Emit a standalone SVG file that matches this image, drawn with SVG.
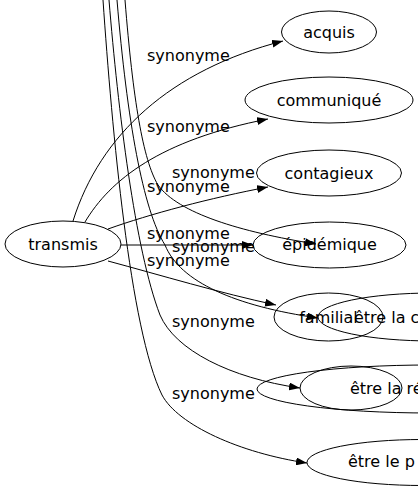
<svg xmlns="http://www.w3.org/2000/svg" width="418" height="491" viewBox="0 0 418 491">
<style>
.n ellipse{fill:none;stroke:#000;stroke-width:1}
.n text{font-family:"DejaVu Sans",sans-serif;font-size:16px;fill:#000}
.e path{fill:none;stroke:#000;stroke-width:1;marker-end:url(#ah)}
.e text{font-family:"DejaVu Sans",sans-serif;font-size:16px;fill:#000}
</style>
<defs>
<marker id="ah" markerUnits="userSpaceOnUse" markerWidth="11" markerHeight="8" viewBox="0 0 11 8" refX="11" refY="4" orient="auto">
<path d="M0,0 L11,4 L0,8 z" fill="#000"/>
</marker>
</defs>
<rect width="418" height="491" fill="#fff"/>
<g id="edges" class="e">
<path d="M73,221 C100,135 170,70 283,41"/>
<path d="M85,222 C110,180 160,140 268,119"/>
<path d="M108,229 C150,214 210,198 268,187"/>
<path d="M121,245 L253,245"/>
<path d="M108,261 C160,275 220,293 276,305"/>
<path d="M125,0 C133,100 143,160 158,185 C178,213 240,232 316,244"/>
<path d="M117,0 C127,120 143,210 165,245 C180,282 235,306 318,318"/>
<path d="M109,0 C118,110 135,250 160,315 C175,350 230,378 300,388"/>
<path d="M103,0 C112,130 130,330 162,395 C178,425 240,453 307,463"/>
<text x="147" y="61">synonyme</text>
<text x="147" y="132">synonyme</text>
<text x="172" y="178">synonyme</text>
<text x="147" y="192">synonyme</text>
<text x="147" y="239">synonyme</text>
<text x="172" y="252">synonyme</text>
<text x="147" y="266">synonyme</text>
<text x="172" y="327">synonyme</text>
<text x="172" y="399">synonyme</text>
</g>
<g id="transmis" class="n"><ellipse cx="63" cy="244" rx="58" ry="23"/><text x="63" y="250" text-anchor="middle">transmis</text></g>
<g id="acquis" class="n"><ellipse cx="329" cy="32" rx="47.5" ry="21"/><text x="329" y="38" text-anchor="middle">acquis</text></g>
<g id="communique" class="n"><ellipse cx="329" cy="100" rx="84" ry="23"/><text x="329" y="106" text-anchor="middle">communiqué</text></g>
<g id="contagieux" class="n"><ellipse cx="329" cy="173" rx="72.5" ry="23"/><text x="329" y="179" text-anchor="middle">contagieux</text></g>
<g id="epidemique" class="n"><ellipse cx="329.5" cy="245" rx="76.5" ry="23"/><text x="329.5" y="250" text-anchor="middle">épidémique</text></g>
<g id="familial" class="n"><ellipse cx="328.5" cy="317" rx="54.5" ry="24"/><text x="328.5" y="323" text-anchor="middle">familial</text></g>
<g id="etre-la-c" class="n"><ellipse cx="433" cy="317" rx="115" ry="24"/><text x="354" y="323">être la c</text></g>
<g id="etre-la-re-outer" class="n"><ellipse cx="430" cy="389" rx="173" ry="24"/></g>
<g id="etre-la-re" class="n"><ellipse cx="351" cy="388" rx="51" ry="22"/><text x="350" y="394">être la ré</text></g>
<g id="etre-le-p" class="n"><ellipse cx="422" cy="462.5" rx="115" ry="23"/><text x="348" y="467">être le p</text></g>
</svg>
